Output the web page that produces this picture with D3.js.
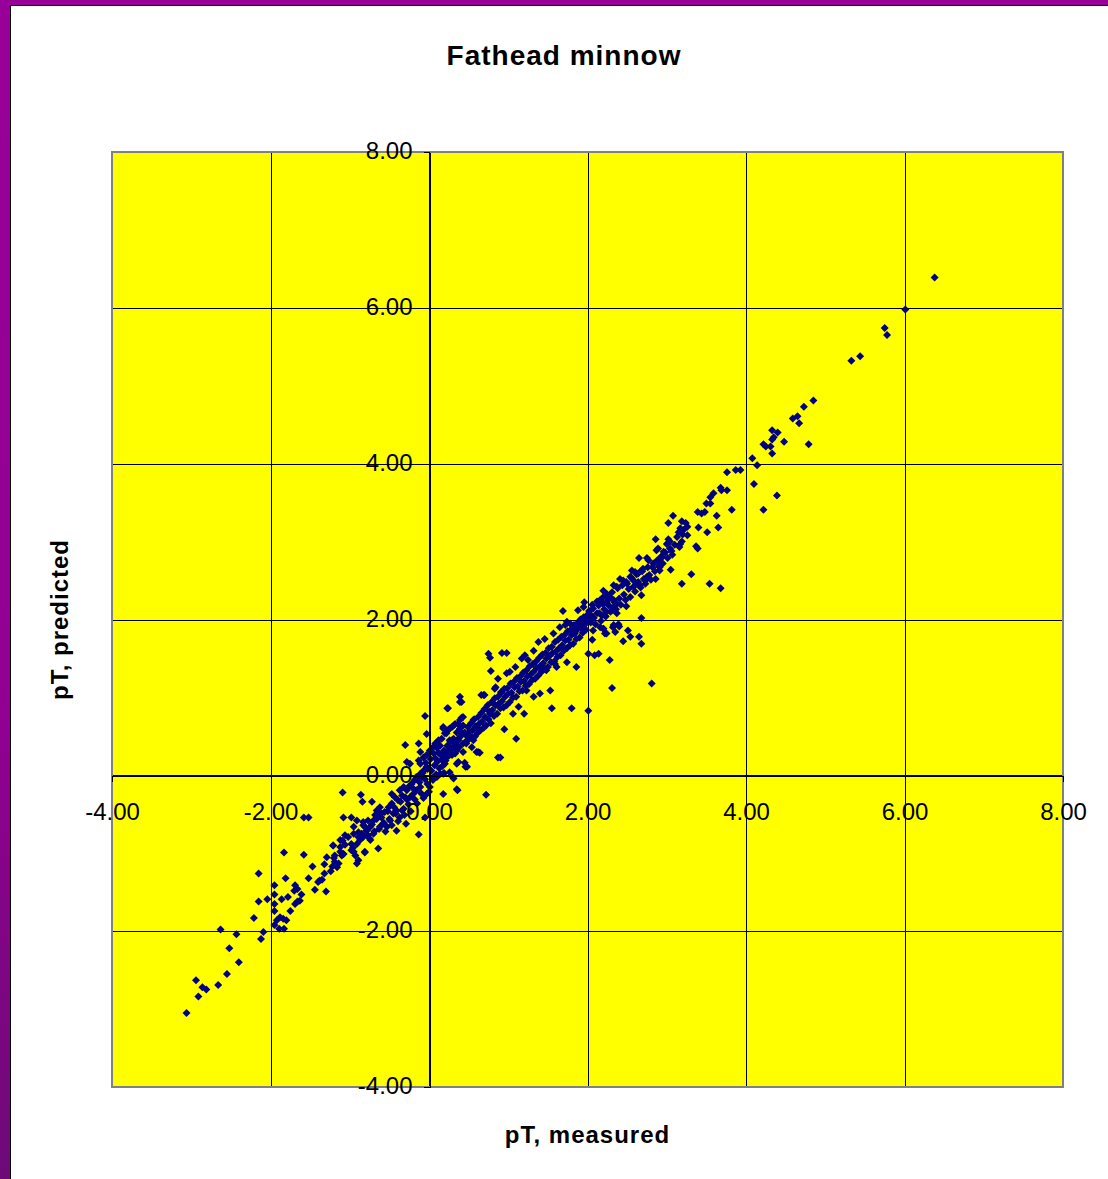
<!DOCTYPE html>
<html>
<head>
<meta charset="utf-8">
<script src="https://cdn.jsdelivr.net/npm/d3@7"></script>
<style>
  body { margin: 0; background: #fff; }
  svg { display: block; }
</style>
</head>
<body>
<div id="chart"></div>
<script>
const W = 1108, H = 1179;
const PLOT = { LEFT: 112, RIGHT: 1063, TOP: 152, BOTTOM: 1087 };

const chartTitle = "Fathead minnow";
const xTitle = "pT, measured";
const yTitle = "pT, predicted";
const xTicks = [-4, -2, 0, 2, 4, 6, 8];
const yTicks = [-4, -2, 0, 2, 4, 6, 8];

// [measured, predicted], split by region
const lowTail = [
  [-3.06,-3.05],[-2.91,-2.84],[-2.94,-2.63],[-2.86,-2.72],[-2.81,-2.75],[-2.66,-2.69],[-2.55,-2.55],[-2.40,-2.40],
  [-2.52,-2.22],[-2.63,-1.98],[-2.43,-2.04],[-2.12,-2.10],[-2.09,-2.01],[-2.21,-1.83],[-2.15,-1.62],[-2.15,-1.26],
  [-2.04,-1.59],[-1.95,-1.41],[-1.95,-1.53],[-1.95,-1.65],[-1.95,-1.74],[-1.95,-1.92],[-1.92,-1.86],[-1.88,-1.82],
  [-1.84,-1.84],[-1.80,-1.86],[-1.89,-1.97],[-1.83,-1.97],[-1.86,-1.59],[-1.78,-1.56],[-1.83,-0.99],[-1.81,-1.32],
  [-1.75,-1.74],[-1.69,-1.65],[-1.66,-1.62],[-1.63,-1.61],[-1.69,-1.41],[-1.66,-1.46],[-1.70,-1.48],[-1.61,-1.53],
  [-1.58,-1.02],[-1.52,-1.32],[-1.47,-1.17],[-1.44,-1.47],[-1.32,-1.14],[-1.32,-1.26],[-1.40,-1.37],[-1.38,-1.35],
  [-1.35,-1.34],[-1.30,-1.49],[-1.21,-0.90],[-1.24,-1.23],[-1.22,-1.17],[-1.19,-1.11],[-1.16,-1.18],[-1.14,-1.13],
  [-1.20,-1.06],[-1.10,-1.03],[-1.08,-1.01],[-1.12,-0.98],[-1.09,-0.84],[-1.06,-0.89],[-0.98,-0.88],[-0.96,-0.93],
  [-0.95,-0.98],[-0.91,-1.13],[-0.89,-1.09],[-0.81,-0.99],[-0.89,-0.79],[-0.85,-0.75],[-0.81,-0.66],[-0.83,-0.60],
  [-0.77,-0.77],[-1.58,-0.54],[-1.52,-0.54],[-1.09,-0.22],[-1.29,-1.05],[-1.12,-0.92],[-1.02,-0.79]
];

const coreBand = [
  [-0.86,-0.25],[-0.84,-0.34],[-0.72,-0.34],[-1.08,-0.54],[-0.98,-0.54],[-0.91,-0.58],[-0.83,-0.64],[-0.95,-0.66],
  [-1.06,-0.77],[-1.12,-0.83],[-1.21,-0.90],[-1.19,-1.03],[-1.08,-1.01],[-0.98,-0.96],[-0.93,-1.03],[-0.87,-0.83],
  [-0.83,-0.79],[-0.79,-0.71],[-0.74,-0.66],[-0.70,-0.58],[-0.66,-0.45],[-0.64,-0.49],[-0.62,-0.41],[-0.60,-0.54],
  [-0.58,-0.62],[-0.53,-0.66],[-0.49,-0.58],[-0.45,-0.49],[-0.41,-0.45],[-0.64,-0.94],[-0.81,-0.98],[-0.47,-0.24],
  [-0.43,-0.28],[-0.37,-0.19],[-0.32,-0.15],[-0.28,-0.19],[-0.24,-0.28],[-0.20,-0.24],[-0.16,-0.19],[-0.11,-0.15],
  [-0.41,-0.71],[-0.29,-0.62],[-0.13,-0.76],[-0.05,-0.54],[-0.03,-0.24],[0.01,-0.15],[0.05,-0.06],[0.10,-0.02],
  [0.14,0.02],[0.19,0.03],[0.36,-0.19],[0.72,-0.25],
  [-0.11,0.02],[-0.07,0.06],[-0.03,0.11],[-0.11,0.15],[-0.13,0.19],[-0.07,0.23],[-0.03,0.26],[0.01,0.32],
  [0.05,0.36],[0.08,0.41],[0.12,0.45],[0.16,0.47],[0.20,0.54],[0.24,0.58],[0.29,0.62],[0.33,0.66],
  [0.39,0.71],[0.43,0.75],
  [-0.05,0.76],[-0.30,0.39],[-0.03,0.53],[-0.13,0.41],[0.24,0.86],[0.39,1.01],[0.41,0.94],[0.70,1.03],
  [0.84,1.13],[0.62,0.30],[0.46,0.11],[0.31,-0.04],[0.35,-0.18],[0.18,-0.24],[0.87,0.23],[-0.24,0.15],
  [-0.28,0.17],[-0.11,0.30],[0.18,0.62],[0.29,0.45],[0.38,0.36],[0.26,0.36],[0.37,0.17],[0.43,0.30],
  [0.52,0.49],[0.60,0.62],[0.77,0.79],[0.56,0.71],
  [-0.95,-0.75],[-0.89,-0.73],[-0.77,-0.58],[-0.68,-0.51],[-0.56,-0.47],[-0.51,-0.41],[-0.47,-0.36],[-0.39,-0.32],
  [-0.34,-0.26],[-0.30,-0.28],[-0.26,-0.15],[-0.22,-0.11],[-0.18,-0.06],[-0.16,-0.02],[-0.32,-0.43],[-0.37,-0.54],
  [-0.70,-0.75],[-0.62,-0.66],[-0.74,-0.83],[-0.91,-0.88],
  [0.18,0.02],[0.26,0.04],[0.30,-0.02],[0.20,0.15],[0.22,0.23],[0.18,0.28],[0.24,0.30],[0.29,0.26],
  [0.33,0.28],[0.35,0.32],[0.31,0.36],[0.26,0.45],[0.22,0.54],[0.18,0.60],[0.26,0.60],[0.31,0.64],
  [0.37,0.66],[0.39,0.60],[0.41,0.54],[0.37,0.45],[0.43,0.41],[0.48,0.45],[0.52,0.49],[0.56,0.45],
  [0.54,0.36],[0.60,0.30],[0.64,0.29],[0.45,0.16],[0.48,0.11],[0.35,0.15],[0.90,0.23],[1.10,0.47],
  [0.95,0.59],[0.23,0.86],[0.39,0.94],[0.41,0.74],
  [-0.78,-0.70],[-0.75,-0.81],[-0.72,-0.63],[-0.69,-0.72],[-0.66,-0.56],[-0.63,-0.69],[-0.60,-0.49],[-0.57,-0.61],
  [-0.55,-0.72],[-0.52,-0.46],[-0.50,-0.56],[-0.47,-0.64],[-0.44,-0.41],[-0.42,-0.49],[-0.39,-0.59],[-0.36,-0.34],
  [-0.34,-0.45],[-0.31,-0.51],[-0.28,-0.31],[-0.26,-0.37],[-0.23,-0.46],[-0.20,-0.17],[-0.18,-0.31],[-0.15,-0.36],
  [-0.12,-0.09],[-0.10,-0.23],[-0.07,-0.29],[-0.05,-0.05],[-0.02,-0.11],[0.00,-0.21],[0.03,0.06],[0.05,-0.03],
  [0.07,0.13],[0.09,0.01],[0.11,0.18],[0.13,0.09],[0.15,0.26],[0.17,0.12],[0.19,0.32],[0.21,0.19],
  [0.23,0.38],[0.25,0.25],[0.27,0.43],[0.29,0.34],[0.31,0.47],[0.33,0.40],[0.35,0.55],[0.37,0.47],
  [0.39,0.57],[0.41,0.51],[0.43,0.64],[0.45,0.55],[0.02,0.21],[0.06,0.28],[-0.02,0.08],[-0.08,0.03],
  [-0.15,-0.04],[0.10,0.35],[0.14,0.38],[-0.04,0.16],[0.08,0.22],[0.12,0.29],[0.16,0.20],[-0.09,-0.02]
];

const midBand = [
  [0.46,0.52],[0.47,0.41],[0.49,0.62],[0.50,0.46],[0.51,0.56],[0.53,0.67],[0.54,0.49],[0.55,0.58],
  [0.57,0.72],[0.58,0.50],[0.59,0.63],[0.61,0.54],[0.62,0.75],[0.63,0.66],[0.65,0.58],[0.66,0.80],
  [0.67,0.69],[0.69,0.61],[0.70,0.85],[0.71,0.75],[0.72,0.64],[0.74,0.90],[0.75,0.72],[0.76,0.82],
  [0.78,0.67],[0.79,0.94],[0.80,0.84],[0.82,0.76],[0.83,0.99],[0.84,0.90],[0.86,0.79],[0.87,1.01],
  [0.88,0.92],[0.90,0.86],[0.91,1.06],[0.92,0.95],[0.94,0.87],[0.95,1.11],[0.96,1.01],[0.98,0.90],
  [0.99,1.12],[1.00,1.05],[1.02,0.94],[1.03,1.18],[1.04,1.06],[1.06,1.00],[1.07,1.20],[1.08,1.13],
  [1.10,1.01],[1.11,1.25],[1.12,1.14],[1.14,1.08],[1.15,1.27],[1.16,1.20],[1.18,1.09],[1.19,1.32],
  [1.20,1.21],[1.22,1.15],[1.23,1.35],[1.24,1.27],[1.26,1.17],[1.27,1.40],[1.28,1.29],[1.30,1.22],
  [1.31,1.43],[1.32,1.33],[1.34,1.24],[1.35,1.46],[1.36,1.38],[1.38,1.28],[1.39,1.51],[1.40,1.40],
  [1.42,1.34],[1.43,1.55],[1.44,1.44],[1.46,1.37],[1.47,1.57],[1.48,1.50],[1.50,1.39],[1.51,1.63],
  [1.52,1.53],[1.54,1.45],[1.55,1.65],[1.56,1.57],[1.58,1.46],[1.59,1.71],[1.60,1.59],[1.62,1.52],
  [1.63,1.74],[1.64,1.63],[1.66,1.54],[1.67,1.78],[1.68,1.67],[1.70,1.60],[1.71,1.80],[1.72,1.73],
  [1.74,1.63],[1.75,1.85],[1.76,1.74],[1.78,1.67],[1.79,1.87],[1.80,1.80],[1.82,1.69],[1.83,1.93],
  [1.84,1.82],[1.86,1.75],[1.87,1.95],[1.88,1.88],[1.90,1.77],[1.91,2.00],[1.92,1.89],[1.94,1.83],
  [1.95,2.03],[1.96,1.93],[1.98,1.87],[1.99,2.05],[2.00,1.98],
  [0.75,1.56],[0.77,1.51],[0.92,1.57],[0.98,1.57],[0.78,1.34],[0.83,1.11],[0.91,1.07],[0.69,1.03],
  [1.38,1.71],[1.46,1.75],[1.13,0.88],[1.20,0.79],[1.06,0.79],[1.42,1.33],[1.48,1.35],[1.61,1.39],
  [1.59,1.43],[1.74,1.45],[1.86,1.39],[1.23,1.09],[1.32,1.01],[1.40,1.05],[1.53,1.09],[1.25,1.48],
  [1.21,1.54],[1.17,1.50],[0.98,1.31],[1.02,1.33],[2.31,1.12],[2.01,0.83],[1.80,0.86],[1.55,0.86],
  [2.81,1.18],[0.66,1.03],[0.87,1.24],[1.09,1.39],[1.32,1.60],[1.57,1.82],[1.74,1.97]
];

const upperBand = [
  [1.69,2.11],[1.88,2.12],[1.95,2.16],[1.96,2.22],[2.07,2.14],[2.14,2.18],[2.20,2.20],[2.26,2.25],
  [2.33,2.16],[2.37,2.20],[2.01,2.03],[2.05,2.05],[2.12,2.08],[2.18,2.05],[2.24,2.10],[2.31,2.12],
  [1.65,1.90],[1.72,1.93],[1.78,1.95],[1.82,1.88],[1.86,1.86],[1.91,1.90],[1.95,1.95],[2.07,1.86],
  [2.20,1.88],[2.22,1.82],[2.33,1.93],[2.35,1.84],[2.06,1.74],[2.09,1.54],[2.14,1.56],[2.01,1.56],
  [2.28,1.48],
  [2.02,2.11],[2.04,1.96],[2.06,2.19],[2.08,2.02],[2.10,1.94],[2.12,2.23],[2.15,2.08],[2.17,1.98],
  [2.19,2.28],[2.21,2.13],[2.23,2.04],[2.25,2.30],[2.27,2.18],[2.29,2.10],[2.31,2.35],[2.34,2.22],
  [2.36,2.13],[2.38,2.40],[2.40,2.27],[2.42,2.19],[2.44,2.44],[2.46,2.32],[2.48,2.25],[2.50,2.46],
  [2.52,2.39],[2.54,2.29],[2.56,2.53],[2.58,2.42],[2.60,2.36],[2.62,2.58],[2.64,2.48],[2.67,2.41],
  [2.69,2.62],[2.71,2.52],[2.73,2.46],[2.76,2.67],[2.78,2.57],[2.80,2.51],[2.83,2.72],[2.85,2.62],
  [2.88,2.76],[2.90,2.69],[2.93,2.81],[2.95,2.72],[2.98,2.86],[3.01,2.79],[3.04,2.91],[3.07,2.83],
  [3.10,2.96],[3.13,3.06],[3.16,2.93],[3.20,3.09],
  [3.68,3.69],[3.59,3.62],[3.55,3.57],[3.50,3.49],[3.55,3.49],[3.82,3.41],[3.39,3.38],[3.44,3.36],
  [3.48,3.38],[3.63,3.33],[3.08,3.33],[3.02,3.24],[3.19,3.26],[3.24,3.24],[3.26,3.19],[3.17,3.17],
  [3.15,3.12],[3.21,3.15],[3.40,3.18],[3.65,3.18],[3.51,3.12],[3.26,3.08],[2.86,3.03],[3.02,3.03],
  [3.04,3.00],[3.00,2.97],[3.19,3.00],[3.17,2.97],[3.37,2.94],[3.39,2.91],[3.06,2.88],[2.96,2.87],
  [2.89,2.91],[2.87,2.89],[2.94,2.80],[2.91,2.77],[2.65,2.79],[2.75,2.79],[2.77,2.76],[3.05,2.64],
  [2.91,2.67],[2.91,2.63],[2.82,2.67],[3.31,2.58],[2.86,2.52],[3.19,2.46],[3.54,2.46],[3.68,2.40],
  [2.56,2.63],[2.60,2.61],[2.64,2.59],[2.68,2.63],[2.70,2.65],[2.41,2.52],[2.45,2.50],[2.49,2.48],
  [2.54,2.55],[2.58,2.50],[2.62,2.46],[2.66,2.44],[2.73,2.50],[2.75,2.55],[2.68,2.31],[2.33,2.44],
  [2.37,2.42],[2.20,2.37],[2.24,2.33],[2.28,2.29],[2.16,2.25],[2.20,2.20],[2.24,2.22],[2.33,2.25],
  [2.49,2.17],[2.37,2.08],[2.22,2.05],[2.68,2.02],[2.16,1.90],[2.20,1.88],[2.24,1.82],[2.32,1.90],
  [2.39,1.94],[2.40,1.91],[2.51,1.86],[2.54,1.78],[2.65,1.78],[2.68,1.69],[2.45,1.72]
];

const upperTail = [
  [6.38,6.39],[6.01,5.98],[5.75,5.74],[5.78,5.65],[5.33,5.32],[5.44,5.38],[4.85,4.81],[4.73,4.73],
  [4.59,4.58],[4.65,4.61],[4.67,4.52],[4.33,4.43],[4.40,4.40],[4.35,4.34],[4.33,4.31],[4.22,4.25],
  [4.25,4.22],[4.31,4.22],[4.48,4.28],[4.33,4.13],[4.79,4.25],[4.08,4.07],[4.14,3.98],[3.76,3.89],
  [3.87,3.92],[3.93,3.92],[4.10,3.74],[4.39,3.59],[3.69,3.66],[3.76,3.66],[4.22,3.41]
];

const allPoints = [].concat(lowTail, coreBand, midBand, upperBand, upperTail);

const FONT = "'Liberation Sans', Arial, sans-serif";

const svg = d3.select("#chart")
  .append("svg")
  .attr("width", W)
  .attr("height", H);

// purple window frame
const defs = svg.append("defs");
const grad = defs.append("linearGradient")
  .attr("id", "frameGrad")
  .attr("x1", 0).attr("y1", 0).attr("x2", 0).attr("y2", 1);
grad.append("stop").attr("offset", "0%").attr("stop-color", "#990099");
grad.append("stop").attr("offset", "60%").attr("stop-color", "#920092");
grad.append("stop").attr("offset", "100%").attr("stop-color", "#6e0a78");

svg.append("rect").attr("x", 0).attr("y", 0).attr("width", W).attr("height", H).attr("fill", "#fff");
svg.append("rect").attr("x", 0).attr("y", 0).attr("width", 10).attr("height", H).attr("fill", "url(#frameGrad)");
svg.append("rect").attr("x", 0).attr("y", 0).attr("width", W).attr("height", 5).attr("fill", "#990099");
svg.append("line").attr("x1", 10.5).attr("y1", 5).attr("x2", 10.5).attr("y2", H)
  .attr("stroke", "#000").attr("stroke-width", 1);
svg.append("line").attr("x1", 10).attr("y1", 5.5).attr("x2", W).attr("y2", 5.5)
  .attr("stroke", "#000").attr("stroke-width", 1);

// scales
const x = d3.scaleLinear().domain([-4, 8]).range([PLOT.LEFT, PLOT.RIGHT]);
const y = d3.scaleLinear().domain([-4, 8]).range([PLOT.BOTTOM, PLOT.TOP]);

// plot area
svg.append("rect")
  .attr("x", PLOT.LEFT).attr("y", PLOT.TOP)
  .attr("width", PLOT.RIGHT - PLOT.LEFT).attr("height", PLOT.BOTTOM - PLOT.TOP)
  .attr("fill", "#ffff00");

// gridlines
const grid = svg.append("g").attr("shape-rendering", "crispEdges");
grid.selectAll(".vgrid")
  .data(xTicks.filter(d => d > -4 && d < 8))
  .enter().append("line")
  .attr("x1", d => Math.round(x(d)) + 0.5).attr("x2", d => Math.round(x(d)) + 0.5)
  .attr("y1", PLOT.TOP).attr("y2", PLOT.BOTTOM)
  .attr("stroke", "#000").attr("stroke-width", 1);
grid.selectAll(".hgrid")
  .data(yTicks.filter(d => d > -4 && d < 8))
  .enter().append("line")
  .attr("y1", d => Math.round(y(d)) + 0.5).attr("y2", d => Math.round(y(d)) + 0.5)
  .attr("x1", PLOT.LEFT).attr("x2", PLOT.RIGHT)
  .attr("stroke", "#000").attr("stroke-width", 1);

// plot border
svg.append("rect")
  .attr("x", PLOT.LEFT).attr("y", PLOT.TOP)
  .attr("width", PLOT.RIGHT - PLOT.LEFT).attr("height", PLOT.BOTTOM - PLOT.TOP)
  .attr("fill", "none").attr("stroke", "#808080").attr("stroke-width", 2);

// points
const marker = d3.symbol().type(d3.symbolSquare).size(32);
svg.append("g")
  .selectAll("path")
  .data(allPoints)
  .enter().append("path")
  .attr("d", marker)
  .attr("transform", d => `translate(${x(d[0])},${y(d[1])}) rotate(45)`)
  .attr("fill", "#000080");

// axes through zero
const fmt = d => d.toFixed(2);
const yAxis = svg.append("g")
  .attr("transform", `translate(${Math.round(x(0)) + 0.5},0)`)
  .call(d3.axisLeft(y).tickValues(yTicks).tickFormat(fmt).tickSizeInner(6).tickSizeOuter(0).tickPadding(11));
const xAxis = svg.append("g")
  .attr("transform", `translate(0,${Math.round(y(0)) + 0.5})`)
  .call(d3.axisBottom(x).tickValues(xTicks).tickFormat(fmt).tickSizeInner(6).tickSizeOuter(0).tickPadding(21));

[yAxis, xAxis].forEach(ax => {
  ax.select(".domain").attr("stroke", "#000").attr("shape-rendering", "crispEdges");
  ax.selectAll(".tick line").attr("stroke", "#000").attr("shape-rendering", "crispEdges");
  ax.selectAll("text")
    .attr("fill", "#000")
    .style("font-family", FONT)
    .style("font-size", "24px");
});
yAxis.selectAll("text").attr("dy", "0.28em");

// titles
svg.append("text")
  .attr("x", 564).attr("y", 65)
  .attr("text-anchor", "middle")
  .style("font-family", FONT).style("font-weight", "bold")
  .style("font-size", "28px").style("letter-spacing", "1px")
  .text(chartTitle);

svg.append("text")
  .attr("x", (PLOT.LEFT + PLOT.RIGHT) / 2).attr("y", 1143)
  .attr("text-anchor", "middle")
  .style("font-family", FONT).style("font-weight", "bold")
  .style("font-size", "24px").style("letter-spacing", "1px")
  .text(xTitle);

svg.append("text")
  .attr("transform", `translate(68,${(PLOT.TOP + PLOT.BOTTOM) / 2}) rotate(-90)`)
  .attr("text-anchor", "middle")
  .style("font-family", FONT).style("font-weight", "bold")
  .style("font-size", "24px").style("letter-spacing", "1px")
  .text(yTitle);
</script>
</body>
</html>
